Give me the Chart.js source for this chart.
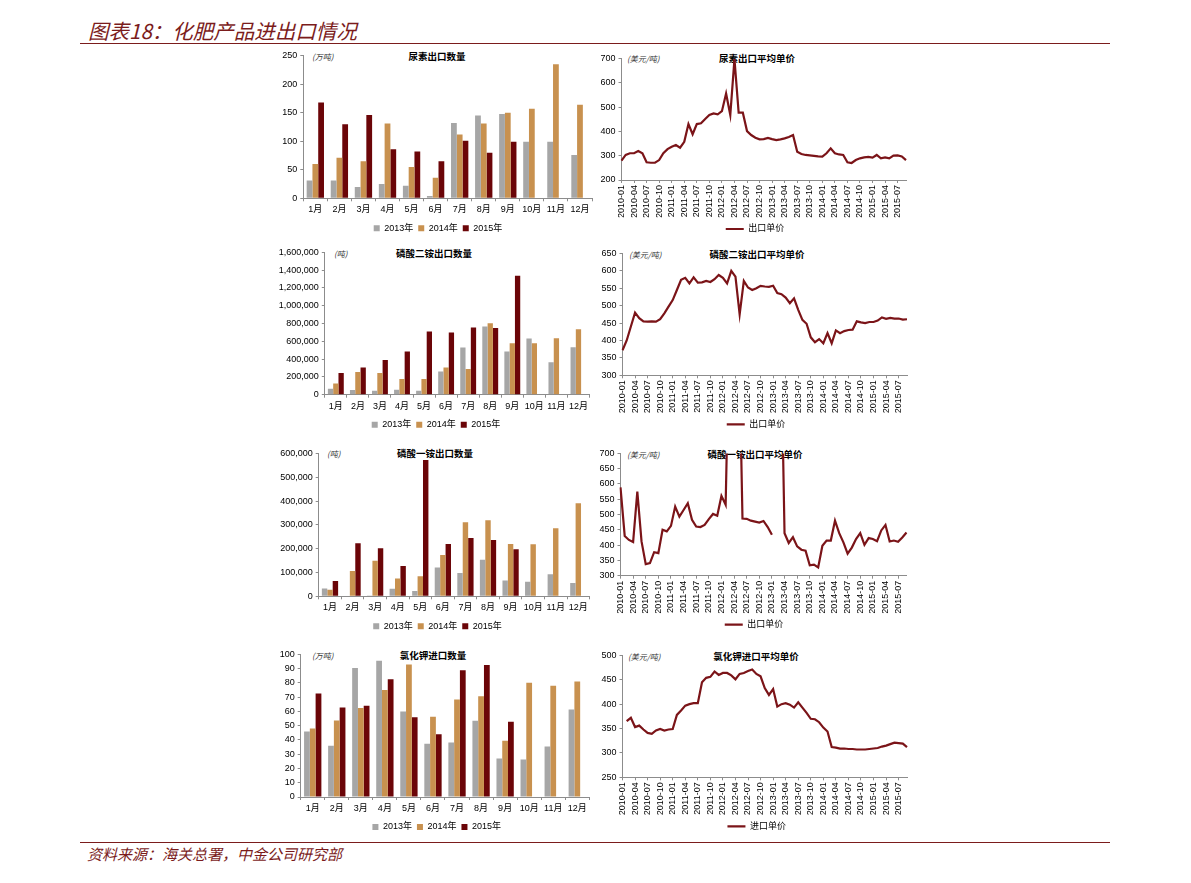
<!DOCTYPE html>
<html lang="zh">
<head>
<meta charset="utf-8">
<title>化肥产品进出口情况</title>
<script src="https://cdn.jsdelivr.net/npm/chart.js@4.4.1/dist/chart.umd.min.js"></script>
<style>
  body { margin: 0; background: #fff; width: 1191px; height: 883px; position: relative; overflow: hidden; }
  .head { position: absolute; left: 88px; top: 15px; font: italic 20.5px 'Noto Sans CJK SC', sans-serif; color: #7b1c1c; }
  .rule { position: absolute; left: 80px; width: 1030px; height: 1px; background: #7b1c1c; }
  .foot { position: absolute; left: 87px; top: 843px; font: italic 15px 'Noto Sans CJK SC', sans-serif; color: #7b1c1c; }
  .ttl { position: absolute; transform: translate(-50%, -50%); font: bold 9.5px 'Noto Sans CJK SC', sans-serif; white-space: nowrap; }
  .unit { position: absolute; transform: translateY(-50%); font: italic 8px 'Noto Sans CJK SC', sans-serif; color: #333; white-space: nowrap; }
  canvas { position: absolute; }
</style>
</head>
<body>
<div class="head">图表18：化肥产品进出口情况</div>
<div class="rule" style="top:43px"></div>
<div class="rule" style="top:842px"></div>
<div class="foot">资料来源：海关总署，中金公司研究部</div>

<div class="ttl" style="left:437px;top:56px">尿素出口数量</div>
<div class="unit" style="left:312px;top:56px">(万吨)</div>
<div class="ttl" style="left:757px;top:58px">尿素出口平均单价</div>
<div class="unit" style="left:627px;top:58px">(美元/吨)</div>
<div class="ttl" style="left:434px;top:253px">磷酸二铵出口数量</div>
<div class="unit" style="left:334px;top:253px">(吨)</div>
<div class="ttl" style="left:757px;top:254px">磷酸二铵出口平均单价</div>
<div class="unit" style="left:629px;top:254px">(美元/吨)</div>
<div class="ttl" style="left:435px;top:453px">磷酸一铵出口数量</div>
<div class="unit" style="left:327px;top:453px">(吨)</div>
<div class="ttl" style="left:755px;top:454px">磷酸一铵出口平均单价</div>
<div class="unit" style="left:627px;top:454px">(美元/吨)</div>
<div class="ttl" style="left:433px;top:655px">氯化钾进口数量</div>
<div class="unit" style="left:312px;top:655px">(万吨)</div>
<div class="ttl" style="left:756px;top:656px">氯化钾进口平均单价</div>
<div class="unit" style="left:628px;top:656px">(美元/吨)</div>

<canvas id="c1"></canvas>
<canvas id="c2"></canvas>
<canvas id="c3"></canvas>
<canvas id="c4"></canvas>
<canvas id="c5"></canvas>
<canvas id="c6"></canvas>
<canvas id="c7"></canvas>
<canvas id="c8"></canvas>

<script>
// categories
const monthCats = ['1月', '2月', '3月', '4月', '5月', '6月', '7月', '8月', '9月', '10月', '11月', '12月'];
const years = ['2013年', '2014年', '2015年'];
const months = [];
for (let y = 2010; y <= 2015; y++) {
  for (let m = 1; m <= 12; m++) {
    if (y === 2015 && m > 9) break;
    months.push(y + '-' + String(m).padStart(2, '0'));
  }
}

// 尿素出口数量 (万吨)
const ureaQty2013 = [31, 31, 20, 25, 22, 4, 132, 145, 148, 99, 99, 76];
const ureaQty2014 = [60, 71, 65, 131, 55, 36, 112, 131, 150, 157, 235, 164];
const ureaQty2015 = [168, 130, 146, 86, 82, 65, 101, 80, 99, null, null, null];

// 磷酸二铵出口数量 (吨)
const dapQty2013 = [67000, 52000, 45000, 56000, 45000, 262000, 531000, 766000, 486000, 632000, 366000, 534000];
const dapQty2014 = [127000, 254000, 243000, 176000, 176000, 307000, 288000, 804000, 579000, 579000, 636000, 736000];
const dapQty2015 = [243000, 307000, 389000, 486000, 710000, 699000, 755000, 751000, 1338000, null, null, null];

// 磷酸一铵出口数量 (吨)
const mapQty2013 = [33000, null, 3000, 32000, 22000, 121000, 98000, 153000, 66000, 61000, 93000, 56000];
const mapQty2014 = [28000, 106000, 149000, 75000, 84000, 173000, 311000, 319000, 220000, 219000, 286000, 391000];
const mapQty2015 = [64000, 223000, 202000, 127000, 572000, 220000, 245000, 236000, 198000, null, null, null];

// 氯化钾进口数量 (万吨)
const kclQty2013 = [46, 36, 90.4, 95.5, 60, 37.3, 38.2, 53.4, 27, 26.3, 35.4, 61.3];
const kclQty2014 = [48, 53.6, 62.5, 75, 93, 56.2, 68.3, 70.6, 39.4, 80.2, 78, 81];
const kclQty2015 = [72.5, 62.7, 64, 82.5, 56, 44, 88.8, 92.5, 52.7, null, null, null];

// 月度单价 (美元/吨), 2010-01 .. 2015-09
const ureaPrice = [280, 303, 310, 310, 319, 310, 273, 271, 271, 282, 310, 327,
  337, 344, 333, 357, 430, 388, 430, 433, 451, 467, 474, 470,
  483, 556, 467, 697, 477, 477, 401, 385, 374, 367, 368, 373,
  368, 364, 367, 371, 377, 385, 316, 307, 303, 301, 299, 297,
  296, 310, 330, 310, 305, 303, 273, 270, 282, 289, 293, 295,
  292, 303, 289, 293, 289, 300, 301, 297, 282];
const dapPrice = [372, 400, 440, 480, 464, 455, 454, 455, 454, 461, 478, 497,
  516, 545, 574, 580, 564, 581, 566, 567, 571, 568, 576, 588,
  580, 564, 600, 583, 475, 571, 552, 545, 550, 557, 555, 554,
  557, 536, 533, 523, 507, 521, 488, 459, 448, 409, 395, 404,
  392, 421, 392, 429, 421, 427, 430, 431, 455, 452, 450, 453,
  453, 457, 466, 462, 465, 463, 463, 460, 461];
const mapPrice = [589, 430, 417, 410, 575, 412, 338, 341, 377, 374, 450, 445,
  463, 526, 493, 515, 537, 483, 461, 459, 466, 485, 502, 496,
  561, 532, 1200, 1200, 1200, 487, 486, 480, 477, 474, 479, 459,
  434, null, 1200, 439, 407, 426, 396, 385, 382, 334, 336, 327,
  398, 415, 415, 480, 439, 409, 372, 392, 420, 439, 401, 423,
  420, 413, 448, 466, 412, 415, 411, 425, 441];
const kclPrice = [null, 365, 372, 353, 356, 348, 341, 339, 346, 349, 346, 348,
  349, 378, 387, 397, 400, 402, 402, 445, 454, 456, 467, 460,
  464, 464, 459, 451, 462, 464, 468, 471, 462, 457, 433, 419,
  431, 395, 400, 402, 399, 393, 404, 393, 382, 370, 369, 363,
  352, 344, 312, 311, 309, 309, 308, 308, 307, 307, 307, 308,
  309, 310, 313, 315, 318, 321, 320, 319, 312];

const GREY = '#a6a6a6', TAN = '#c8914f', MAROON = '#6b0508', LINE = '#7b1418', AXIS = '#8c8c8c';

Chart.defaults.font.family = "'Liberation Sans', 'Noto Sans CJK SC', sans-serif";
Chart.defaults.font.size = 9;
Chart.defaults.color = '#000';
Chart.defaults.animation = false;

// g: plot area in page px (x0,y0,x1,y1), legend centre lc, y label room yw
function panel(id, g, type, yOpt, datasets, labels) {
  const isBar = type === 'bar';
  const padTop = 8, M = 4;
  const xh = isBar ? 20.5 : 37.5;
  const lp = isBar ? 5 : 7;
  const legendH = 9 + lp + 10;
  const bL = g.x0 - g.yw;            // legend box left = y scale left
  const bR = Math.max(2 * g.lc - bL, g.x1 + 4);
  const rw = bR - g.x1;              // spare room on the right, keeps legend centred
  const left = Math.floor(bL - M);
  const top = Math.floor(g.y0 - padTop);
  const W = Math.ceil(bR + M - left);
  const H = Math.ceil(g.y1 - top + xh + legendH);
  const cv = document.getElementById(id);
  cv.style.left = left + 'px';
  cv.style.top = top + 'px';
  cv.width = W; cv.height = H;
  cv.style.width = W + 'px'; cv.style.height = H + 'px';

  const xScale = isBar ? {
    offset: true,
    grid: { drawOnChartArea: false, tickLength: 3, color: AXIS, offset: true },
    border: { color: AXIS },
    ticks: { padding: 3, maxRotation: 0, autoSkip: false },
    afterFit: s => { s.height = xh; }
  } : {
    offset: false,
    grid: { drawOnChartArea: false, tickLength: 3, offset: false,
      color: c => (c.index % 3 === 0 ? AXIS : 'rgba(0,0,0,0)') },
    border: { color: AXIS },
    ticks: { padding: 2, autoSkip: false, minRotation: 90, maxRotation: 90,
      callback: (v, i) => (i % 3 === 0 ? labels[i] : '') },
    afterFit: s => { s.height = xh; }
  };

  new Chart(cv, {
    type: type,
    data: { labels: labels, datasets: datasets },
    options: {
      responsive: false,
      layout: { padding: { left: bL - left, top: g.y0 - top, right: left + W - bR,
        bottom: H - (g.y1 - top + xh + legendH) } },
      scales: {
        x: xScale,
        y: {
          min: yOpt.min, max: yOpt.max,
          ticks: { stepSize: yOpt.step, padding: 3, callback: v => v.toLocaleString('en-US') },
          grid: { drawOnChartArea: false, tickLength: 3, color: AXIS },
          border: { color: AXIS },
          afterFit: s => { s.width = g.yw; }
        },
        spare: {
          type: 'linear', position: 'right', display: true,
          ticks: { display: false }, grid: { display: false }, border: { display: false },
          afterFit: s => { s.width = rw; }
        }
      },
      plugins: {
        tooltip: { enabled: false },
        legend: {
          position: 'bottom',
          labels: isBar
            ? { boxWidth: 6, boxHeight: 6, padding: lp }
            : { usePointStyle: true, pointStyle: 'line', pointStyleWidth: 18, padding: lp }
        }
      }
    }
  });
}

function bars(a, b, c) {
  const base = { borderWidth: 0, barPercentage: 1, categoryPercentage: 0.72 };
  return [
    Object.assign({ label: years[0], data: a, backgroundColor: GREY }, base),
    Object.assign({ label: years[1], data: b, backgroundColor: TAN }, base),
    Object.assign({ label: years[2], data: c, backgroundColor: MAROON }, base)
  ];
}
function line(label, d) {
  return [{ label: label, data: d, borderColor: LINE, backgroundColor: LINE, borderWidth: 2.2,
    pointRadius: 0, tension: 0, fill: false, spanGaps: false }];
}

panel('c1', { x0: 303.3, y0: 55.7, x1: 592, y1: 198.3, lc: 438, yw: 30 }, 'bar',
  { min: 0, max: 250, step: 50 }, bars(ureaQty2013, ureaQty2014, ureaQty2015), monthCats);
panel('c2', { x0: 621.5, y0: 58.3, x1: 906, y1: 180, lc: 755, yw: 30 }, 'line',
  { min: 200, max: 700, step: 50 }, line('出口单价', ureaPrice), months);
panel('c3', { x0: 324.8, y0: 252, x1: 589.5, y1: 394.7, lc: 436, yw: 49 }, 'bar',
  { min: 0, max: 1600000, step: 200000 }, bars(dapQty2013, dapQty2014, dapQty2015), monthCats);
panel('c4', { x0: 622.5, y0: 253, x1: 907, y1: 375.3, lc: 756, yw: 30 }, 'line',
  { min: 300, max: 650, step: 50 }, line('出口单价', dapPrice), months);
panel('c5', { x0: 318.7, y0: 453, x1: 589.6, y1: 596.3, lc: 437.5, yw: 44 }, 'bar',
  { min: 0, max: 600000, step: 100000 }, bars(mapQty2013, mapQty2014, mapQty2015), monthCats);
panel('c6', { x0: 620.5, y0: 453, x1: 906.5, y1: 575.7, lc: 754, yw: 30 }, 'line',
  { min: 300, max: 700, step: 50 }, line('出口单价', mapPrice), months);
panel('c7', { x0: 300.7, y0: 654, x1: 589.3, y1: 797, lc: 436.7, yw: 30 }, 'bar',
  { min: 0, max: 100, step: 10 }, bars(kclQty2013, kclQty2014, kclQty2015), monthCats);
panel('c8', { x0: 622.5, y0: 655.3, x1: 907, y1: 777.3, lc: 756.7, yw: 30 }, 'line',
  { min: 250, max: 500, step: 50 }, line('进口单价', kclPrice), months);
</script>
</body>
</html>
